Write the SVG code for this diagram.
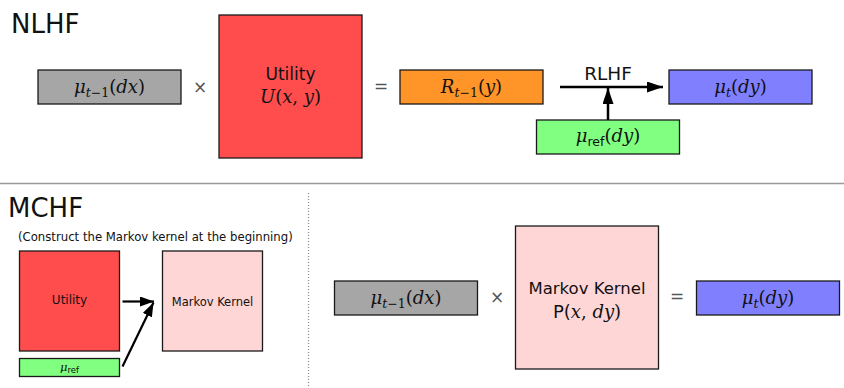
<svg xmlns="http://www.w3.org/2000/svg" width="844" height="388" viewBox="0 0 844 388">
<defs>
<style>
.box{stroke:#1a1a1a;stroke-width:1.3}
.gray{fill:#a6a6a6}.red{fill:#ff4d4d}.orange{fill:#ff9428}.blue{fill:#8080ff}.green{fill:#80ff80}.pink{fill:#ffd6d6}
.sans{font-family:"DejaVu Sans","Liberation Sans",sans-serif;fill:#111}
.math{font-family:"DejaVu Serif","Liberation Serif",serif;font-style:italic;font-size:18px;fill:#111}
.up{font-style:normal}
.sub{font-size:12.5px}
.rs{font-family:"DejaVu Sans",sans-serif;font-style:normal;font-size:12.5px}
.op{font-family:"DejaVu Sans",sans-serif;font-size:17px;fill:#555}
.conn{stroke:#000;fill:none}
</style>
<marker id="ah" markerUnits="userSpaceOnUse" markerWidth="17" markerHeight="12" refX="16" refY="5.5" orient="auto"><path d="M0,0 L16,5.5 L0,11 z" fill="#000"/></marker>
<marker id="ahs" markerUnits="userSpaceOnUse" markerWidth="15" markerHeight="11" refX="14" refY="5" orient="auto"><path d="M0,0 L14,5 L0,10 z" fill="#000"/></marker>
</defs>
<rect width="844" height="388" fill="#fff"/>

<text class="sans" x="11" y="33" font-size="26">NLHF</text>
<text class="sans" x="8" y="217" font-size="26">MCHF</text>
<line x1="0" y1="183.5" x2="844" y2="183.5" stroke="#999" stroke-width="1.5"/>
<line x1="308.5" y1="193" x2="308.5" y2="388" stroke="#888" stroke-width="1.2" stroke-dasharray="1,2"/>
<text class="sans" x="18" y="240.5" font-size="11.7">(Construct the Markov kernel at the beginning)</text>

<g id="top-mu-prev">
<rect class="box gray" x="38" y="70" width="143" height="34"/>
<text class="math" x="109.5" y="92.5" text-anchor="middle">μ<tspan class="sub" dy="4">t</tspan><tspan class="sub up">−1</tspan><tspan class="up" dy="-4">(</tspan>dx<tspan class="up">)</tspan></text>
</g>
<text class="op" x="200" y="93" text-anchor="middle">×</text>
<g id="top-utility">
<rect class="box red" x="219" y="15" width="143" height="143"/>
<text class="sans" x="290.5" y="80" font-size="17" text-anchor="middle">Utility</text>
<text class="math" x="290.5" y="103" text-anchor="middle">U<tspan class="up">(</tspan>x<tspan class="up">, </tspan>y<tspan class="up">)</tspan></text>
</g>
<text class="op" x="381" y="92" text-anchor="middle">=</text>
<g id="top-R">
<rect class="box orange" x="400" y="70" width="143" height="34"/>
<text class="math" x="471.5" y="92.5" text-anchor="middle">R<tspan class="sub" dy="4">t</tspan><tspan class="sub up">−1</tspan><tspan class="up" dy="-4">(</tspan>y<tspan class="up">)</tspan></text>
</g>
<g id="top-mu-t">
<rect class="box blue" x="669" y="70" width="143" height="34"/>
<text class="math" x="740.5" y="92.5" text-anchor="middle">μ<tspan class="sub" dy="4">t</tspan><tspan class="up" dy="-4">(</tspan>dy<tspan class="up">)</tspan></text>
</g>
<g id="top-mu-ref">
<rect class="box green" x="536.5" y="120" width="143" height="34"/>
<text class="math" x="608" y="142" text-anchor="middle">μ<tspan class="rs" dy="4">ref</tspan><tspan class="up" dy="-4">(</tspan>dy<tspan class="up">)</tspan></text>
</g>
<text class="sans" x="608" y="80" font-size="18.5" text-anchor="middle">RLHF</text>

<g id="mc-utility">
<rect class="box red" x="19.5" y="251" width="100" height="100"/>
<text class="sans" x="69.5" y="304" font-size="12" text-anchor="middle">Utility</text>
</g>
<g id="mc-mu-ref">
<rect class="box green" x="19.5" y="358.5" width="100" height="18"/>
<text class="math" x="69.5" y="371" text-anchor="middle" style="font-size:11.5px">μ<tspan class="rs" dy="1.5" style="font-size:8.5px">ref</tspan></text>
</g>
<g id="mc-kernel">
<rect class="box pink" x="162.5" y="251" width="100" height="100"/>
<text class="sans" x="212.5" y="306" font-size="11.5" text-anchor="middle">Markov Kernel</text>
</g>

<g id="bot-mu-prev">
<rect class="box gray" x="334.5" y="281" width="143" height="34"/>
<text class="math" x="406" y="303.5" text-anchor="middle">μ<tspan class="sub" dy="4">t</tspan><tspan class="sub up">−1</tspan><tspan class="up" dy="-4">(</tspan>dx<tspan class="up">)</tspan></text>
</g>
<text class="op" x="497" y="303" text-anchor="middle">×</text>
<g id="bot-kernel">
<rect class="box pink" x="515.5" y="226" width="143" height="143"/>
<text class="sans" x="587" y="294" font-size="16.5" text-anchor="middle">Markov Kernel</text>
<text class="math" x="587" y="318" text-anchor="middle"><tspan class="up" font-family="DejaVu Sans">P(</tspan>x<tspan class="up">, </tspan>dy<tspan class="up">)</tspan></text>
</g>
<text class="op" x="677" y="302" text-anchor="middle">=</text>
<g id="bot-mu-t">
<rect class="box blue" x="696.5" y="281" width="143" height="34"/>
<text class="math" x="768" y="303.5" text-anchor="middle">μ<tspan class="sub" dy="4">t</tspan><tspan class="up" dy="-4">(</tspan>dy<tspan class="up">)</tspan></text>
</g>

<g id="connectors">
<line class="conn" x1="560" y1="87" x2="663" y2="87" stroke-width="2.5" marker-end="url(#ah)"/>
<line class="conn" x1="608" y1="120" x2="608" y2="88" stroke-width="2.5" marker-end="url(#ah)"/>
<line class="conn" x1="122.5" y1="301.5" x2="154" y2="301.5" stroke-width="2.2" marker-end="url(#ahs)"/>
<line class="conn" x1="122.5" y1="366.5" x2="153.5" y2="302.5" stroke-width="2.2" marker-end="url(#ahs)"/>
</g>
</svg>
